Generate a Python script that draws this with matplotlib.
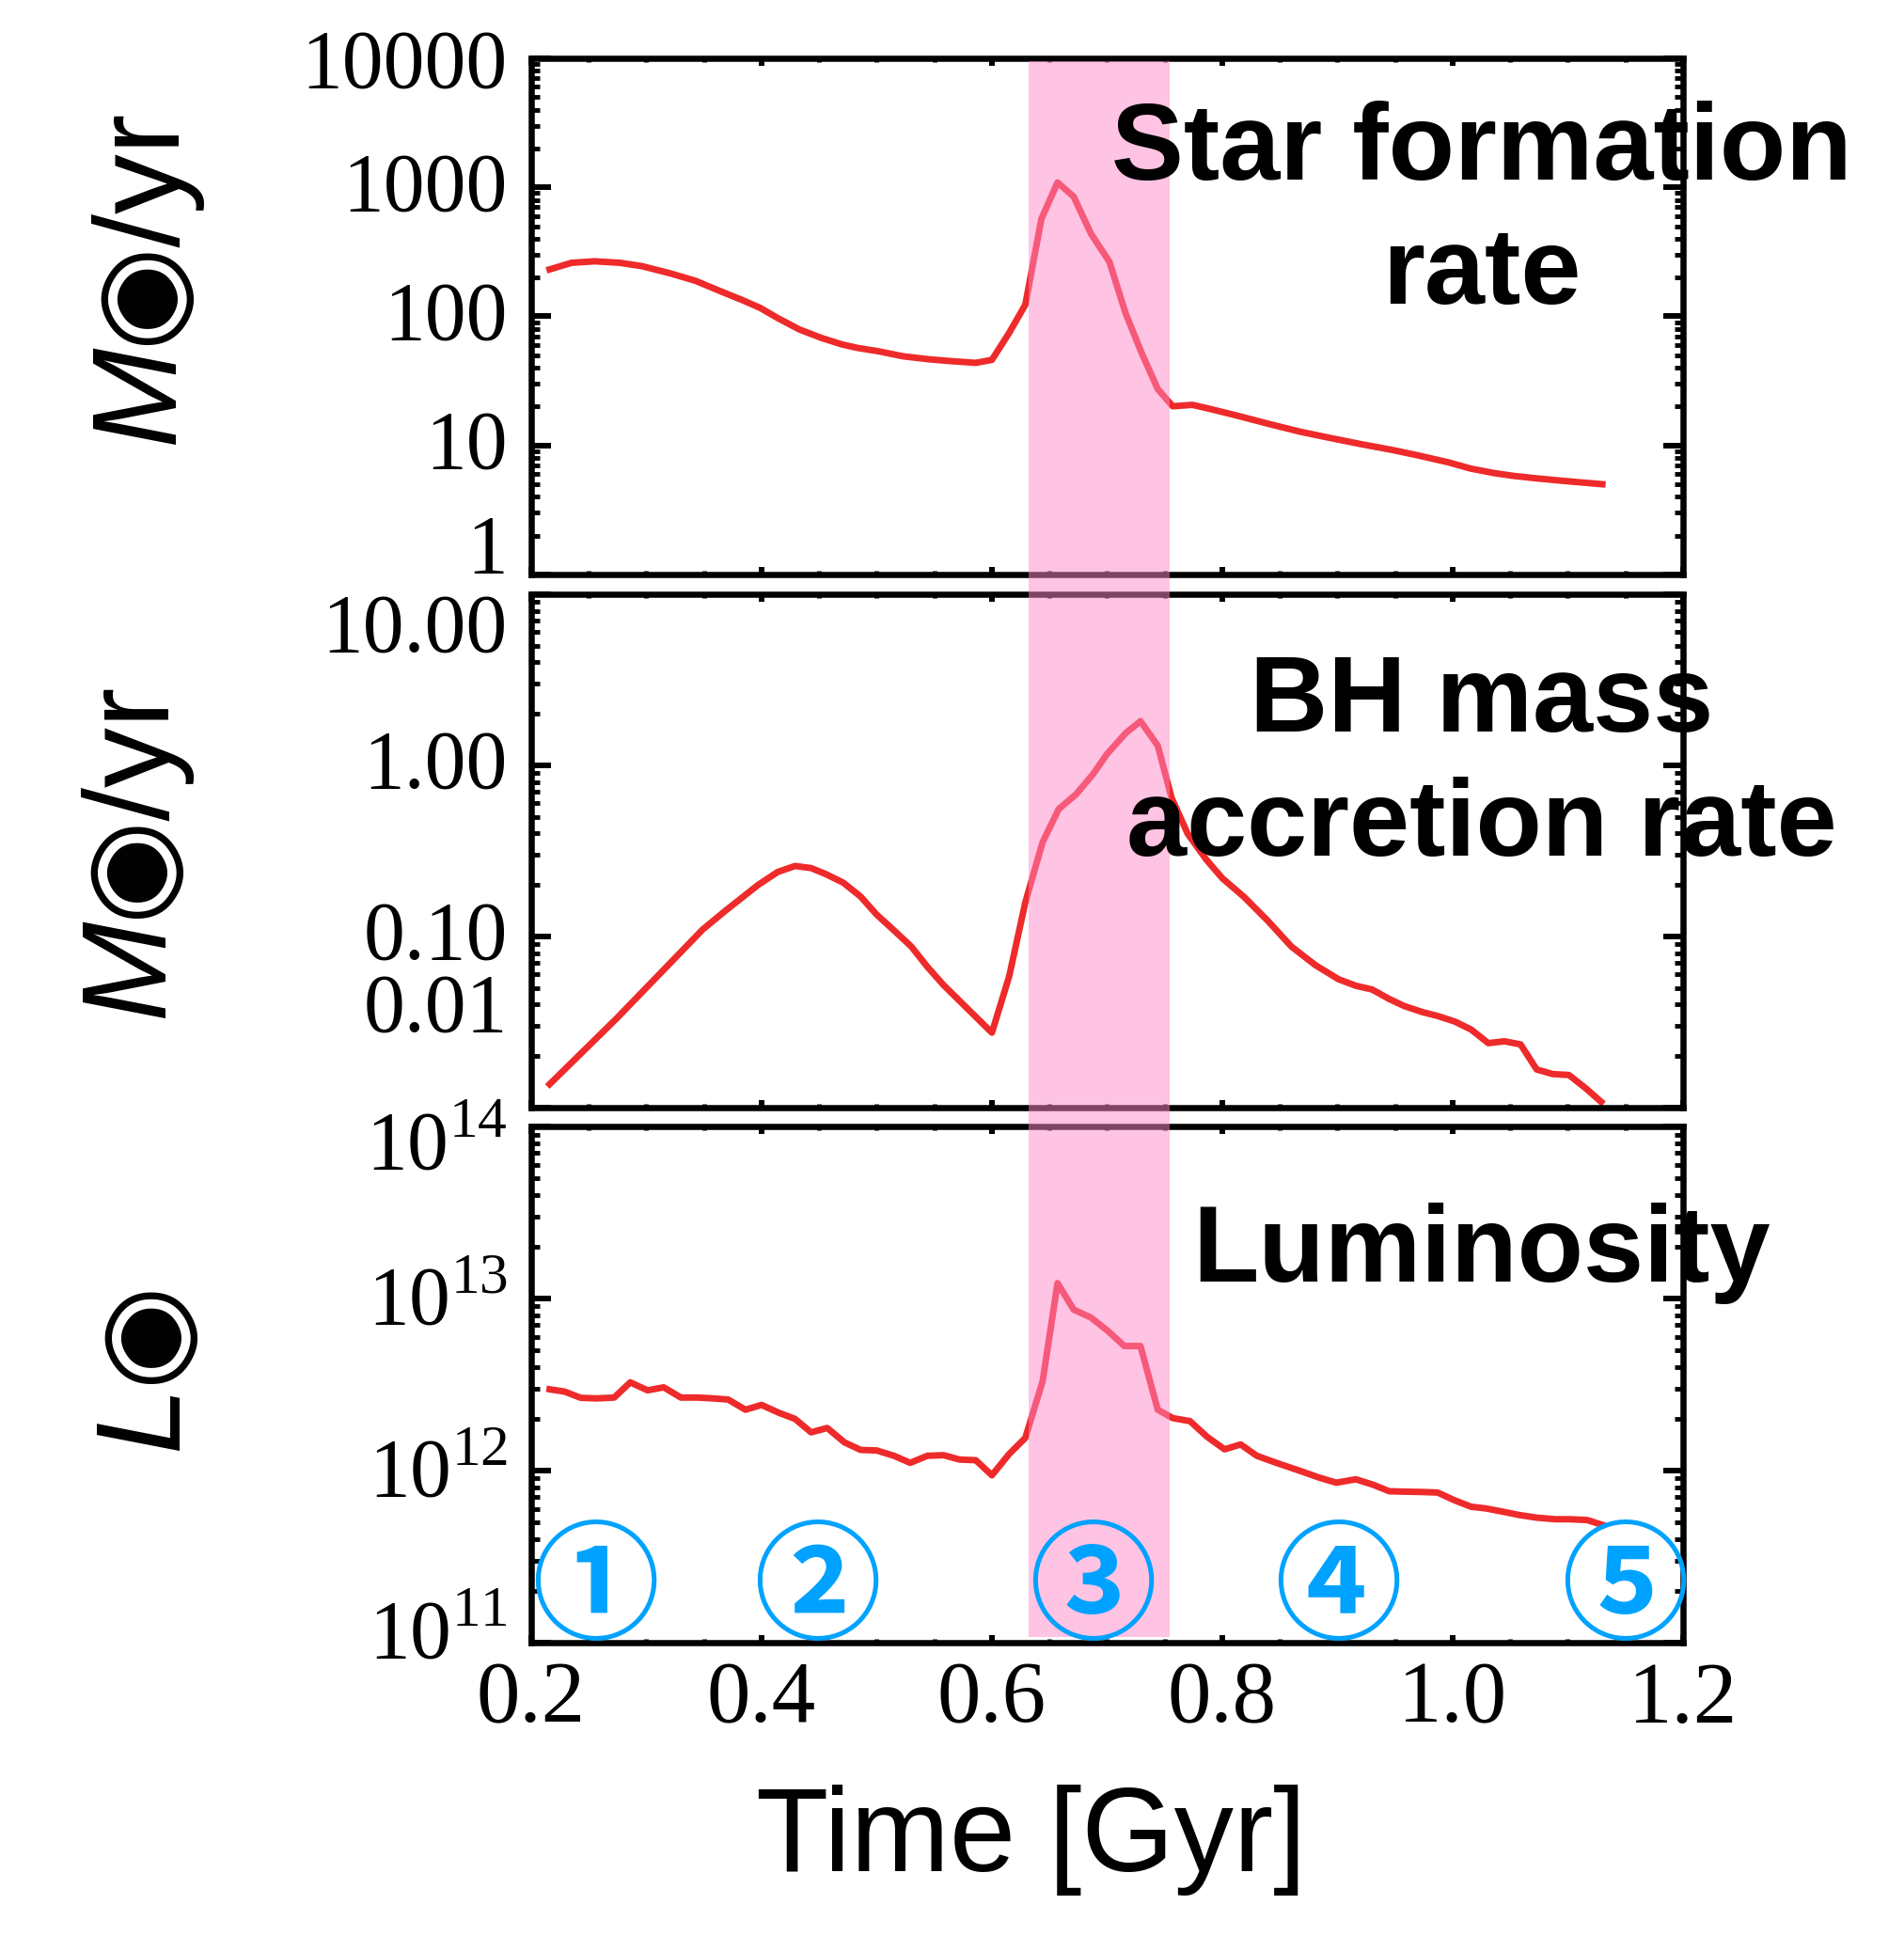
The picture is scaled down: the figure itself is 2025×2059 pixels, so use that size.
import matplotlib
matplotlib.use("Agg")
import numpy as np
import matplotlib.pyplot as plt
from matplotlib.patches import Rectangle
from matplotlib.ticker import FixedLocator, MultipleLocator, LogLocator, NullFormatter
from matplotlib.transforms import blended_transform_factory, ScaledTranslation

# ---------- values ----------
t_sfr = [0.216, 0.235, 0.255, 0.277, 0.296, 0.321, 0.343, 0.364, 0.383, 0.399,
         0.414, 0.433, 0.452, 0.470, 0.483, 0.502, 0.523, 0.545, 0.564, 0.586,
         0.600, 0.615, 0.629, 0.643, 0.657, 0.671, 0.686, 0.702, 0.716, 0.730,
         0.744, 0.757, 0.774, 0.787, 0.813, 0.840, 0.867, 0.894, 0.921, 0.948,
         0.969, 0.996, 1.016, 1.036, 1.053, 1.073, 1.097, 1.130]
sfr = [231, 260, 267, 260, 245, 215, 188, 157, 134, 116,
       97, 79, 68, 60.5, 57, 53.5, 49, 46.5, 45, 43.6,
       46, 74.5, 123, 570, 1090, 847, 437, 265, 106, 52,
       27.3, 20.1, 20.6, 19.4, 17.0, 14.7, 12.8, 11.4, 10.2, 9.2,
       8.4, 7.4, 6.6, 6.1, 5.8, 5.55, 5.3, 5.0]

t_bh = [0.216, 0.274, 0.349, 0.369, 0.397, 0.414, 0.429, 0.443, 0.456, 0.471,
        0.486, 0.500, 0.514, 0.530, 0.544, 0.558, 0.586, 0.600, 0.615, 0.629,
        0.644, 0.658, 0.673, 0.688, 0.700, 0.716, 0.729, 0.744, 0.756, 0.770,
        0.786, 0.800, 0.819, 0.840, 0.860, 0.881, 0.901, 0.916, 0.930, 0.945,
        0.958, 0.974, 0.987, 1.002, 1.016, 1.031, 1.045, 1.059, 1.073, 1.087,
        1.101, 1.116, 1.129]
bhar = [0.0137, 0.0331, 0.110, 0.142, 0.200, 0.238, 0.258, 0.251, 0.231, 0.206,
        0.171, 0.134, 0.110, 0.0873, 0.0664, 0.052, 0.0339, 0.0274, 0.0585, 0.158,
        0.355, 0.555, 0.676, 0.891, 1.164, 1.538, 1.811, 1.303, 0.646, 0.398,
        0.282, 0.219, 0.170, 0.1225, 0.0873, 0.0679, 0.0562, 0.0515, 0.049, 0.0431,
        0.0392, 0.0361, 0.0343, 0.0318, 0.0286, 0.0238, 0.0244, 0.0234, 0.0167, 0.0157,
        0.0155, 0.0129, 0.0108]

t_lum = [0.216, 0.229, 0.243, 0.257, 0.272, 0.286, 0.301, 0.315, 0.330, 0.344,
         0.358, 0.371, 0.386, 0.400, 0.415, 0.429, 0.443, 0.457, 0.472, 0.486,
         0.500, 0.515, 0.529, 0.544, 0.558, 0.572, 0.586, 0.600, 0.615, 0.629,
         0.644, 0.657, 0.671, 0.686, 0.701, 0.715, 0.729, 0.744, 0.757, 0.772,
         0.787, 0.802, 0.816, 0.830, 0.847, 0.867, 0.884, 0.899, 0.916, 0.931,
         0.945, 0.958, 0.972, 0.987, 1.002, 1.016, 1.029, 1.045, 1.058, 1.073,
         1.089, 1.102, 1.117, 1.130]
lum_1e12 = [2.97, 2.88, 2.65, 2.63, 2.66, 3.26, 2.93, 3.05, 2.66, 2.66,
            2.63, 2.59, 2.26, 2.41, 2.17, 2.00, 1.67, 1.77, 1.46, 1.32,
            1.31, 1.22, 1.11, 1.22, 1.23, 1.16, 1.15, 0.94, 1.25, 1.55,
            3.30, 12.3, 8.63, 7.76, 6.46, 5.30, 5.30, 2.26, 2.02, 1.94,
            1.57, 1.33, 1.42, 1.22, 1.11, 1.00, 0.912, 0.851, 0.891, 0.828,
            0.759, 0.755, 0.752, 0.746, 0.671, 0.617, 0.603, 0.575, 0.552, 0.533,
            0.522, 0.522, 0.516, 0.484]

burst_t = [0.6315, 0.7547]
stage_t = [0.2555, 0.448, 0.6874, 0.901, 1.1496]
stage_labels = ["①", "②", "③", "④", "⑤"]

x_ticks = [0.2, 0.4, 0.6, 0.8, 1.0, 1.2]
x_ticklabels = ["0.2", "0.4", "0.6", "0.8", "1.0", "1.2"]
sfr_ticks = [1, 10, 100, 1000, 10000]
sfr_ticklabels = ["1", "10", "100", "1000", "10000"]
bh_ticks = [0.01, 0.1, 1, 10]
bh_ticklabels = ["0.01", "0.10", "1.00", "10.00"]
lum_ticks = [1e11, 1e12, 1e13, 1e14]
lum_ticklabels = [r"$10^{11}$", r"$10^{12}$", r"$10^{13}$", r"$10^{14}$"]

panel_titles = ["Star formation\nrate", "BH mass\naccretion rate", "Luminosity"]

# ---------- style ----------
plt.rcParams["font.family"] = "Liberation Serif"
plt.rcParams["mathtext.fontset"] = "custom"
plt.rcParams["mathtext.rm"] = "Liberation Serif"

RED = "#EE2A2A"
PINK = "#FF88C8"
BLUE = "#00A2FF"
SANS = ["Liberation Sans", "DejaVu Sans"]
LABEL_FS = 92

fig = plt.figure(figsize=(20.25, 20.59), dpi=100)
left, width = 0.2790, 0.6049
ax1 = fig.add_axes([left, 0.7033, width, 0.2666])
ax2 = fig.add_axes([left, 0.4279, width, 0.2652])
ax3 = fig.add_axes([left, 0.1515, width, 0.2666])
axes = [ax1, ax2, ax3]

ax1.plot(t_sfr, sfr, color=RED, lw=5)
ax2.plot(t_bh, bhar, color=RED, lw=5)
ax3.plot(t_lum, np.array(lum_1e12) * 1e12, color=RED, lw=5)

limits = [(1, 1e4), (0.01, 10), (1e11, 1e14)]
yticks = [(sfr_ticks, sfr_ticklabels), (bh_ticks, bh_ticklabels), (lum_ticks, lum_ticklabels)]

for ax, lim, (tk, tl) in zip(axes, limits, yticks):
    ax.set_yscale("log")
    ax.set_xlim(0.2, 1.2)
    ax.set_ylim(*lim)
    ax.set_yticks(tk, tl)
    ax.yaxis.set_minor_locator(LogLocator(base=10, subs=np.arange(2, 10), numticks=20))
    ax.yaxis.set_minor_formatter(NullFormatter())
    ax.xaxis.set_major_locator(FixedLocator(x_ticks))
    ax.xaxis.set_minor_locator(MultipleLocator(0.05))
    ax.tick_params(axis="both", which="both", direction="in", top=True, right=True)
    ax.tick_params(axis="y", which="major", length=15, width=4.3, pad=18, labelsize=63)
    ax.tick_params(axis="y", which="minor", length=6.5, width=3.5)
    ax.tick_params(axis="x", which="major", length=6, width=4.3, pad=14, labelsize=67)
    ax.tick_params(axis="x", which="minor", length=3, width=3.5)
    for sp in ax.spines.values():
        sp.set_linewidth(4.7)

ax1.set_xticklabels([])
ax2.set_xticklabels([])
ax3.set_xticks(x_ticks, x_ticklabels)
ax3.set_xlabel("Time [Gyr]", fontsize=91, family=SANS, va="center")
ax3.xaxis.set_label_coords(0.434, -0.383)


def nudge(ax, idx, dy_px):
    lab = ax.yaxis.get_major_ticks()[idx].label1
    lab.set_transform(lab.get_transform() + ScaledTranslation(0, dy_px / 100, fig.dpi_scale_trans))


# small lift for every y tick label, bigger shifts for the edge ones
label_shift = [[33, 7, 7, 7, 0], [112, 7, 7, -30], [14, 4, 4, -14]]
for ax, shifts in zip(axes, label_shift):
    for i, dy in enumerate(shifts):
        nudge(ax, i, dy)


def side_label(ax, x, y, italic, rest):
    t1 = ax.text(x, y, italic, transform=ax.transAxes, rotation=90, rotation_mode="anchor",
                 ha="left", va="bottom", fontsize=LABEL_FS, style="italic",
                 family=SANS, clip_on=False)
    ax.annotate(rest, xy=(1, 1), xycoords=t1, rotation=90, rotation_mode="anchor",
                ha="left", va="bottom", fontsize=LABEL_FS, family=SANS)


side_label(ax1, -0.289, 0.2514, "M", "◉/yr")
side_label(ax2, -0.298, 0.174, "M", "◉/yr")
side_label(ax3, -0.286, 0.3716, "L", "◉")

# burst window, drawn over the panels
band_tr = blended_transform_factory(ax3.transData, fig.transFigure)
fig.add_artist(Rectangle((burst_t[0], 0.1544), burst_t[1] - burst_t[0], 0.9684 - 0.1544,
                         transform=band_tr, facecolor=PINK, alpha=0.5, lw=0, zorder=1))

title_pos = [(0.825, 0.699), (0.825, 0.667), (0.825, 0.755)]
for ax, s, (x, y) in zip(axes, panel_titles, title_pos):
    fig.text(x, y, s, transform=ax.transAxes, ha="center", va="center", ma="center",
             fontsize=83, weight="bold", family=SANS, linespacing=1.28, zorder=3)

stage_tr = blended_transform_factory(ax3.transData, ax3.transAxes)
for t, s in zip(stage_t, stage_labels):
    fig.text(t, 0.10, s, transform=stage_tr, ha="center", va="center", fontsize=98,
             color=BLUE, family=["Noto Sans CJK JP", "DejaVu Sans"], weight="bold", zorder=3)

fig.savefig("out.png", dpi=100)
